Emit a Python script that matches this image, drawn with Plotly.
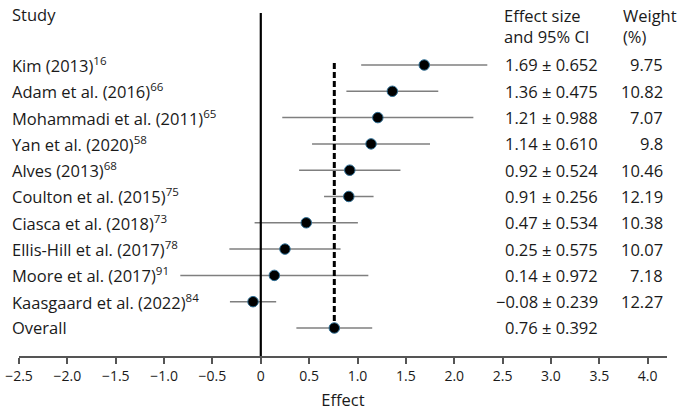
import plotly.graph_objects as go

studies = ["Kim (2013)", "Adam et al. (2016)", "Mohammadi et al. (2011)", "Yan et al. (2020)",
           "Alves (2013)", "Coulton et al. (2015)", "Ciasca et al. (2018)", "Ellis-Hill et al. (2017)",
           "Moore et al. (2017)", "Kaasgaard et al. (2022)", "Overall"]
refs = ["16", "66", "65", "58", "68", "75", "73", "78", "91", "84", ""]
effects = [1.69, 1.36, 1.21, 1.14, 0.92, 0.91, 0.47, 0.25, 0.14, -0.08, 0.76]
ci = [0.652, 0.475, 0.988, 0.610, 0.524, 0.256, 0.534, 0.575, 0.972, 0.239, 0.392]
weights = ["9.75", "10.82", "7.07", "9.8", "10.46", "12.19", "10.38", "10.07", "7.18", "12.27", ""]
tick_vals = [-2.5, -2.0, -1.5, -1.0, -0.5, 0, 0.5, 1.0, 1.5, 2.0, 2.5, 3.0, 3.5, 4.0]
tick_text = ["\u22122.5", "\u22122.0", "\u22121.5", "\u22121.0", "\u22120.5", "0", "0.5", "1.0",
             "1.5", "2.0", "2.5", "3.0", "3.5", "4.0"]

overall = effects[-1]
ys = [-i for i in range(len(studies))]

W, H = 695, 419
ml, mr, mt, mb = 19, 28, 13, 63
pw = W - ml - mr
ph = H - mt - mb


def px(xp):
    return (xp - ml) / pw


def py(yp):
    return (H - mb - yp) / ph


FONT = "Open Sans"
TXT = "#1a1a1a"
FS = 16.5

fig = go.Figure()
fig.add_trace(go.Scatter(
    x=effects, y=ys, mode="markers",
    marker=dict(size=10.5, color="black", line=dict(color="#2f6f95", width=1)),
    error_x=dict(type="data", array=ci, visible=True, color="#7f7f7f", thickness=1.5, width=0),
    hoverinfo="skip", showlegend=False,
))

shapes = [
    dict(type="line", xref="x", yref="paper", x0=0, x1=0, y0=0, y1=1,
         line=dict(color="black", width=2.2)),
    dict(type="line", xref="x", yref="y", x0=overall, x1=overall, y0=0.08, y1=ys[-1],
         line=dict(color="black", width=3, dash="6px,3px")),
]

ann = []
for s, r, y in zip(studies, refs, ys):
    t = s + (f"<sup>{r}</sup>" if r else "")
    ann.append(dict(text=t, x=px(10), y=y, xref="paper", yref="y", xanchor="left",
                    yanchor="middle", showarrow=False, font=dict(size=FS, color=TXT, family=FONT)))
for e, c, w, y in zip(effects, ci, weights, ys):
    es = (f"{e:.2f}".replace("-", "\u2212")) + f" \u00b1 {c:.3f}"
    ann.append(dict(text=es, x=px(600), y=y, xref="paper", yref="y", xanchor="right",
                    yanchor="middle", showarrow=False, font=dict(size=FS, color=TXT, family=FONT)))
    if w:
        ann.append(dict(text=w, x=px(665), y=y, xref="paper", yref="y", xanchor="right",
                        yanchor="middle", showarrow=False, font=dict(size=FS, color=TXT, family=FONT)))

ann.append(dict(text="Study", x=px(10), y=py(15), xref="paper", yref="paper", xanchor="left",
                yanchor="middle", showarrow=False, font=dict(size=FS, color=TXT, family=FONT)))
ann.append(dict(text="Effect size<br>and 95% CI", x=px(502), y=py(2), xref="paper", yref="paper",
                xanchor="left", yanchor="top", align="left", showarrow=False,
                font=dict(size=FS, color=TXT, family=FONT)))
ann.append(dict(text="Weight<br>(%)", x=px(621), y=py(2), xref="paper", yref="paper",
                xanchor="left", yanchor="top", align="left", showarrow=False,
                font=dict(size=FS, color=TXT, family=FONT)))

fig.update_layout(
    width=W, height=H,
    margin=dict(l=ml, r=mr, t=mt, b=mb, autoexpand=False),
    paper_bgcolor="white", plot_bgcolor="white",
    shapes=shapes, annotations=ann,
    xaxis=dict(range=[-2.5, 4.2], tickvals=tick_vals, ticktext=tick_text, automargin=False,
               ticklabeloverflow="allow",
               showline=True, linecolor="#555555", linewidth=1.5,
               ticks="outside", ticklen=6, tickcolor="#555555", tickwidth=1.5,
               showgrid=False, zeroline=False,
               tickfont=dict(size=14, color=TXT, family=FONT),
               title=dict(text="Effect", font=dict(size=FS, color=TXT, family=FONT), standoff=11)),
    yaxis=dict(range=[-11.065, 1.977], visible=False, showgrid=False, zeroline=False,
               automargin=False),
)

fig.write_html("out.html", config={"displayModeBar": False},
               post_script="document.body.style.margin='0';")
